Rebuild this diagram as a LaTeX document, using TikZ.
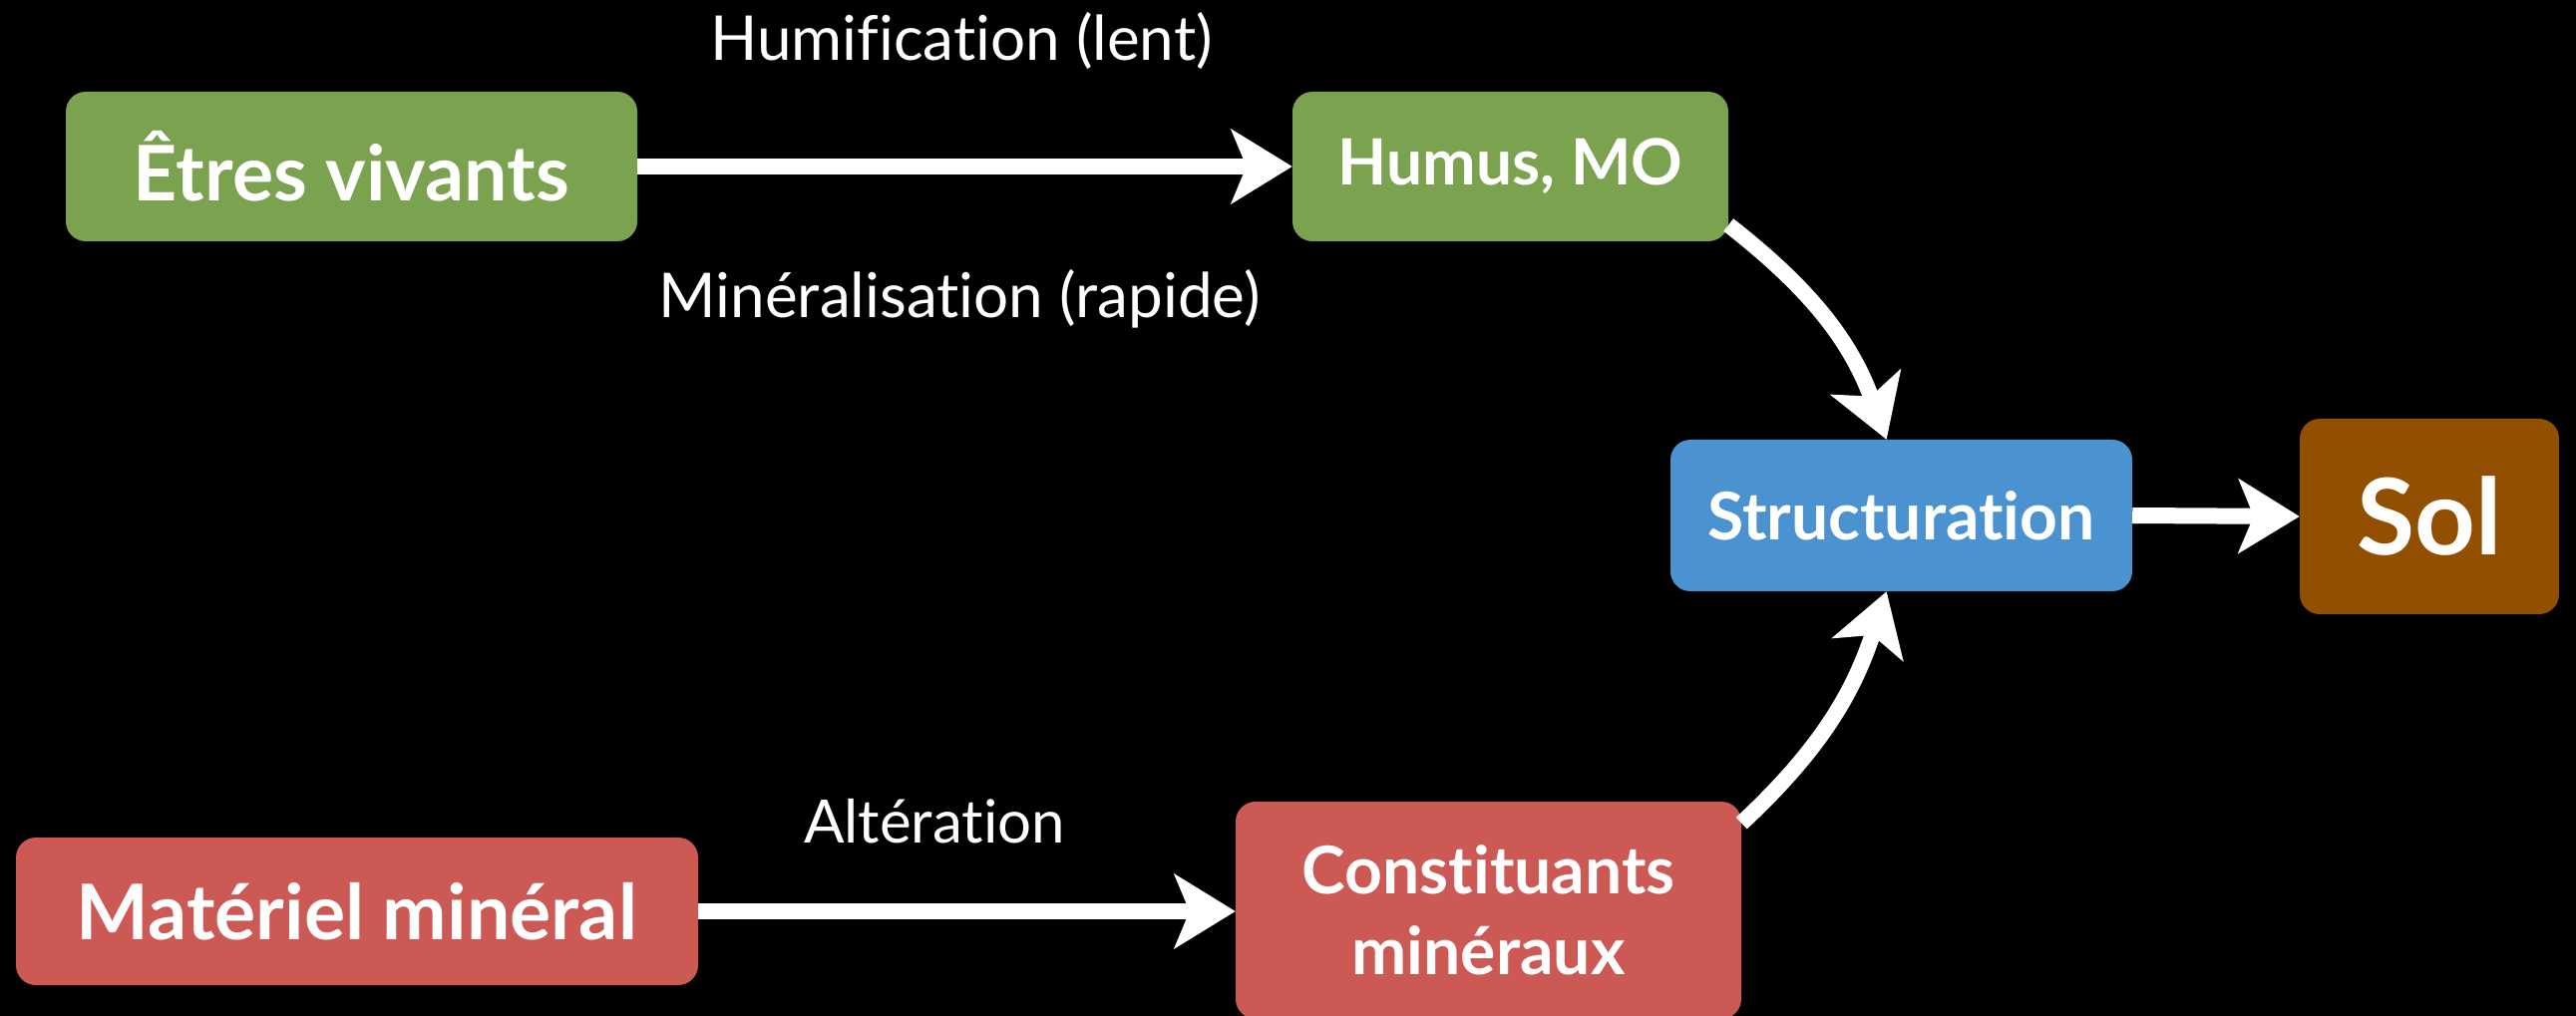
\documentclass[tikz,border=0pt]{standalone}
\usepackage{fontspec}
\setmainfont{Lato}[Ligatures={NoCommon,NoRare}]
\usetikzlibrary{arrows.meta}
\definecolor{cgreen}{HTML}{7BA24F}
\definecolor{cblue}{HTML}{4A92D0}
\definecolor{cbrown}{HTML}{934F00}
\definecolor{cred}{HTML}{CD5954}
\tikzset{
  box/.style={rounded corners=20pt, inner sep=0pt, text=white, font=\bfseries},
  arr/.style={draw=white, line width=16pt, -{Stealth[length=61pt, width=74pt, inset=15pt]}},
  lbl/.style={text=white, inner sep=0pt},
}
\begin{document}
\begin{tikzpicture}[x=1pt,y=1pt]
\useasboundingbox (0,0) rectangle (2583,1018);
\fill[black] (-6,-6) rectangle (2589,1024);
\node[box, fill=cgreen, minimum width=573pt, minimum height=150pt, font=\fontsize{77}{80}\selectfont\bfseries] (etres) at (352.5,851) {Êtres vivants};
\node[box, fill=cgreen, minimum width=437pt, minimum height=150pt, font=\fontsize{64}{70}\selectfont\bfseries] (humus) at (1514.5,851) {Humus, MO};
\node[box, fill=cblue, minimum width=463pt, minimum height=152pt, font=\fontsize{66}{70}\selectfont\bfseries] (struct) at (1906.5,501) {Structuration};
\node[box, fill=cbrown, minimum width=260pt, minimum height=196pt, font=\fontsize{106}{110}\selectfont\bfseries] (sol) at (2436,500) {Sol};
\node[box, fill=cred, minimum width=684pt, minimum height=148pt, font=\fontsize{77}{80}\selectfont\bfseries] (mat) at (358,104) {Matériel minéral};
\node[box, fill=cred, minimum width=507pt, minimum height=218pt, align=center, font=\fontsize{66}{81}\selectfont\bfseries] (const) at (1492.5,105) {Constituants\\minéraux};

\node[lbl, font=\fontsize{62}{64}\selectfont] (lhum) at (964,977) {Humification (lent)};
\node[lbl, font=\fontsize{62}{64}\selectfont] (lmin) at (962,718) {Minéralisation (rapide)};
\node[lbl, font=\fontsize{60}{64}\selectfont] (lalt) at (937,194) {Altération};

\draw[arr] (etres.east) -- (humus.west);
\draw[arr] (struct.east) -- (sol.west);
\draw[arr] (mat.east) -- (mat.east -| const.west);
\draw[arr] (humus.-15) to[out=-38, in=110] (struct.101);
\draw[arr] (const.19) to[out=43, in=-108] (struct.-101);
\end{tikzpicture}
\end{document}
